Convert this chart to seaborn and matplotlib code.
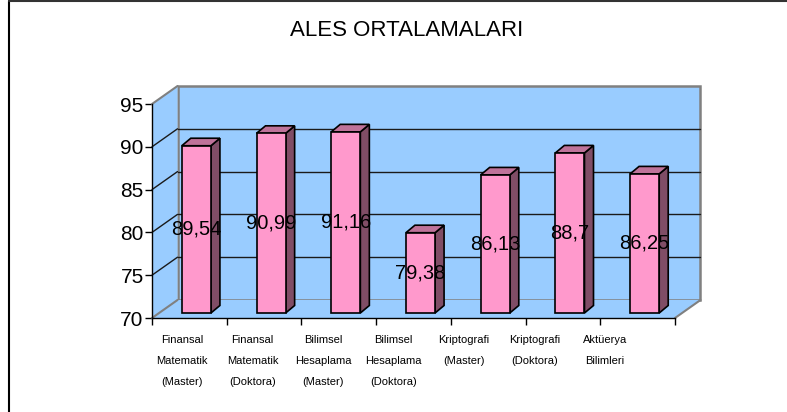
import matplotlib
matplotlib.use("Agg")
import matplotlib.pyplot as plt
from matplotlib.patches import Polygon
from matplotlib.lines import Line2D
import seaborn as sns
import pandas as pd

# chart data
categories = [
    "Finansal\nMatematik\n(Master)",
    "Finansal\nMatematik\n(Doktora)",
    "Bilimsel\nHesaplama\n(Master)",
    "Bilimsel\nHesaplama\n(Doktora)",
    "Kriptografi\n(Master)",
    "Kriptografi\n(Doktora)",
    "Aktüerya\nBilimleri",
]
values = [89.54, 90.99, 91.16, 79.38, 86.13, 88.7, 86.25]
value_labels = ["89,54", "90,99", "91,16", "79,38", "86,13", "88,7", "86,25"]
y_ticks = [70, 75, 80, 85, 90, 95]
title = "ALES ORTALAMALARI"

# colours (Excel 3D column look)
WALL = "#99CCFF"
FRONT = "#FF99CC"
SIDE = "#804D66"
TOP = "#BF739A"
EDGE_GRAY = "#808080"

sns.set_style("white")
plt.rcParams["font.family"] = ["Liberation Sans", "DejaVu Sans"]
plt.rcParams["text.color"] = "black"
plt.rcParams["xtick.color"] = "black"
plt.rcParams["ytick.color"] = "black"

W, H, DPI = 787, 412, 100
fig = plt.figure(figsize=(W / DPI, H / DPI), dpi=DPI)

# front plane of the 3D box
ax = fig.add_axes([152 / W, (H - 318) / H, 523 / W, 214 / H])
ax.set_facecolor("none")

df = pd.DataFrame({"kategori": categories, "deger": values})
sns.barplot(data=df, x="kategori", y="deger", color=FRONT, saturation=1,
            width=0.39, edgecolor="black", linewidth=1.2, ax=ax, zorder=4)
bars = list(ax.patches)

ax.set_xlim(-0.5, len(categories) - 0.5)
ax.set_ylim(y_ticks[0], y_ticks[-1])
ymin, ymax = y_ticks[0], y_ticks[-1]
x_lo, x_hi = -0.5, len(categories) - 0.5

# pixel -> data unit helpers
px_x = (x_hi - x_lo) / 523.0
px_y = (ymax - ymin) / 214.0

def depth(dx_px, dy_px):
    return dx_px * px_x, dy_px * px_y

wdx, wdy = depth(25.5, 18)   # back wall depth
bdx, bdy = depth(7, 5)       # bar front plane offset
sdx, sdy = depth(9, 7.5)     # bar depth

# back wall
ax.add_patch(Polygon([(x_lo + wdx, ymin + wdy), (x_hi + wdx, ymin + wdy),
                      (x_hi + wdx, ymax + wdy), (x_lo + wdx, ymax + wdy)],
                     closed=True, facecolor=WALL, edgecolor=EDGE_GRAY,
                     linewidth=1.8, clip_on=False, zorder=0))
# left wall
ax.add_patch(Polygon([(x_lo, ymin), (x_lo, ymax), (x_lo + wdx, ymax + wdy),
                      (x_lo + wdx, ymin + wdy)],
                     closed=True, facecolor=WALL, edgecolor="none",
                     clip_on=False, zorder=0))
# floor
ax.add_patch(Polygon([(x_lo, ymin), (x_hi, ymin), (x_hi + wdx, ymin + wdy),
                      (x_lo + wdx, ymin + wdy)],
                     closed=True, facecolor=WALL, edgecolor="none",
                     clip_on=False, zorder=0))

# gridlines on back wall and left wall
for t in y_ticks:
    edge = t in (ymin, ymax)
    col = EDGE_GRAY if edge else "#1a1a1a"
    lw = 1.5 if edge else 1.0
    if not edge:
        ax.plot([x_lo + wdx, x_hi + wdx], [t + wdy, t + wdy], color=col,
                lw=lw, clip_on=False, zorder=1)
    ax.plot([x_lo, x_lo + wdx], [t, t + wdy], color=col, lw=lw,
            clip_on=False, zorder=1)
ax.plot([x_hi, x_hi + wdx], [ymin, ymin + wdy], color=EDGE_GRAY, lw=1.5,
        clip_on=False, zorder=1)

# turn flat bars into 3D columns
for patch, v, lab in zip(bars, values, value_labels):
    x0 = patch.get_x() + bdx
    w = patch.get_width()
    patch.set_x(x0)
    patch.set_y(ymin + bdy)
    patch.set_height(v - ymin)
    patch.set_clip_on(False)
    top = v + bdy
    bot = ymin + bdy
    ax.add_patch(Polygon([(x0 + w, bot), (x0 + w, top), (x0 + w + sdx, top + sdy),
                          (x0 + w + sdx, bot + sdy)], closed=True,
                         facecolor=SIDE, edgecolor="black", linewidth=1.2,
                         clip_on=False, zorder=3))
    ax.add_patch(Polygon([(x0, top), (x0 + w, top), (x0 + w + sdx, top + sdy),
                          (x0 + sdx, top + sdy)], closed=True,
                         facecolor=TOP, edgecolor="black", linewidth=1.2,
                         clip_on=False, zorder=3))
    ax.text(x0 + w / 2, (ymin + v) / 2 + bdy, lab, ha="center", va="center",
            fontsize=14.5, color="black", zorder=6)

# axes lines and ticks
for s in ["top", "right"]:
    ax.spines[s].set_visible(False)
for s in ["left", "bottom"]:
    ax.spines[s].set_color("black")
    ax.spines[s].set_linewidth(1.0)
    ax.spines[s].set_zorder(2)
ax.set_yticks(y_ticks)
ax.set_yticklabels([str(t) for t in y_ticks], fontsize=15)
ax.set_xticks([x_lo + i for i in range(len(categories) + 1)])
ax.set_xticklabels([])
ax.tick_params(axis="both", direction="out", length=5, width=1, color="black",
               left=True, bottom=True, pad=1)
ax.set_xlabel("")
ax.set_ylabel("")
ax.grid(False)

# category labels (Excel spaces them a little tighter than the columns)
lab_ax = fig.add_axes([147 / W, (H - 318) / H, 493 / W, 214 / H])
lab_ax.set_facecolor("none")
lab_ax.set_xlim(x_lo, x_hi)
lab_ax.set_ylim(0, 1)
for s in lab_ax.spines.values():
    s.set_visible(False)
lab_ax.set_yticks([])
lab_ax.set_xticks(range(len(categories)))
lab_ax.set_xticklabels(categories, fontsize=8, linespacing=2.4)
lab_ax.tick_params(axis="x", length=0, pad=12)

# title
fig.text(407 / W, 1 - 31 / H, title, ha="center", va="center", fontsize=16,
         color="black")

# chart area border (cropped at right and bottom)
fig.add_artist(Line2D([9 / W, 9 / W], [0, 1 - 1 / H], color="black", lw=1.5,
                      transform=fig.transFigure))
fig.add_artist(Line2D([9 / W, 1], [1 - 1 / H, 1 - 1 / H], color="#333333",
                      lw=1.5, transform=fig.transFigure))

fig.savefig("out.png", dpi=DPI, facecolor="white")
